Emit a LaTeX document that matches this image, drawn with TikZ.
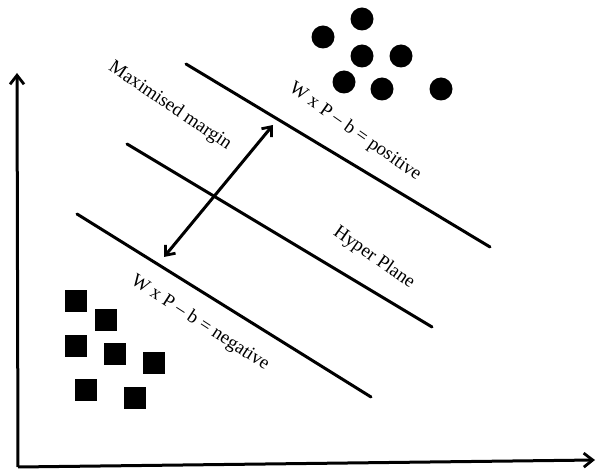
\documentclass[tikz,border=0pt]{standalone}
\usepackage{fontspec}
\setmainfont{Liberation Serif}
\usetikzlibrary{arrows.meta}
\begin{document}
\begin{tikzpicture}[x=1pt,y=-1pt,
  thickline/.style={line width=3pt},
  tip/.style={Straight Barb[length=9pt,width=14pt,line width=2.8pt]},
  axisline/.style={line width=3pt,-{Straight Barb[length=9pt,width=14pt,line width=2.8pt]}},
  dot/.style={circle,fill=black,inner sep=0pt,minimum size=23pt},
  sq/.style={rectangle,fill=black,inner sep=0pt,minimum size=22pt},
  lbl/.style={font=\fontsize{19}{22}\selectfont,inner sep=0pt}]
\useasboundingbox (0,0) rectangle (598,473);
% axes
\coordinate (O) at (18,467);
\coordinate (Ytip) at (17,73);
\coordinate (Xtip) at (595,460);
\draw[axisline] (O) -- (Ytip);
\draw[axisline] (O) -- (Xtip);
% lines
\coordinate (t1) at (186,64);  \coordinate (t2) at (490,247);
\coordinate (m1) at (127,144); \coordinate (m2) at (432,327);
\coordinate (b1) at (77,214);  \coordinate (b2) at (371,397);
\draw[thickline,line cap=round] (t1) -- (t2);
\draw[thickline,line cap=round] (m1) -- (m2);
\draw[thickline,line cap=round] (b1) -- (b2);
% margin arrow
\coordinate (a1) at (164,257);
\coordinate (a2) at (273,125);
\draw[line width=3pt,{Straight Barb[length=8pt,width=13pt,line width=2.8pt]}-{Straight Barb[length=8pt,width=13pt,line width=2.8pt]}] (a1) -- (a2);
% circles
\node[dot] (c1) at (362,19) {};
\node[dot] (c2) at (323,37) {};
\node[dot] (c3) at (362,56) {};
\node[dot] (c4) at (401,56) {};
\node[dot] (c5) at (344,82) {};
\node[dot] (c6) at (382,89) {};
\node[dot] (c7) at (441,89) {};
% squares
\node[sq] (s1) at (76,301) {};
\node[sq] (s2) at (106,320) {};
\node[sq] (s3) at (76,346) {};
\node[sq] (s4) at (115,354) {};
\node[sq] (s5) at (154,363) {};
\node[sq] (s6) at (86,390) {};
\node[sq] (s7) at (135,398) {};
% labels
\node[lbl,rotate=-34] (mm) at (170,106) {Maximised margin};
\node[lbl,rotate=-35] (pos) at (355,132) {W x P -- b = positive};
\node[lbl,rotate=-35] (hp) at (374,258) {Hyper Plane};
\node[lbl,rotate=-33] (neg) at (200,323) {W x P -- b = negative};
\end{tikzpicture}
\end{document}
